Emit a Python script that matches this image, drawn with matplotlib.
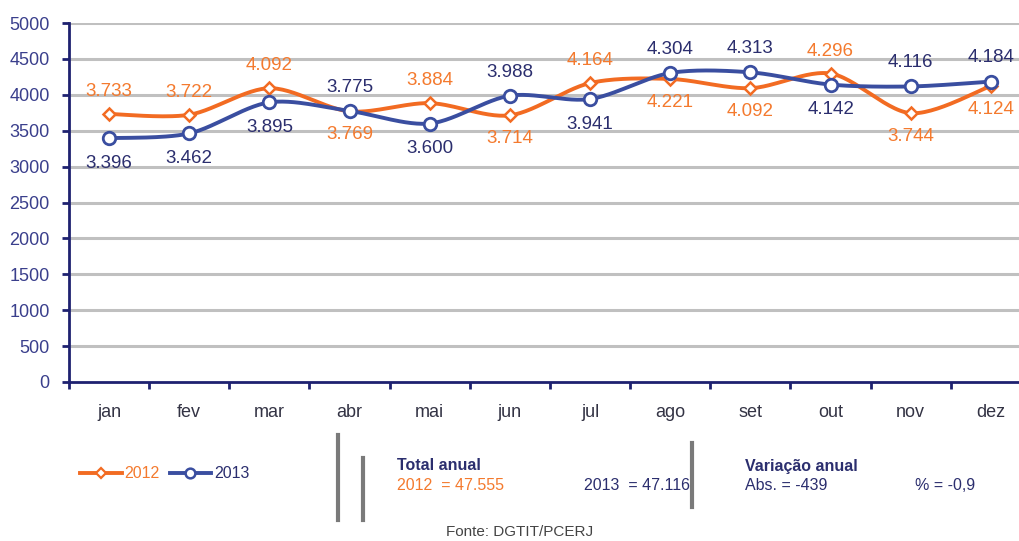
import numpy as np
import matplotlib
matplotlib.use("Agg")
import matplotlib.pyplot as plt
from matplotlib.lines import Line2D
from matplotlib import font_manager

months = ["jan", "fev", "mar", "abr", "mai", "jun", "jul", "ago", "set", "out", "nov", "dez"]
v2012 = [3733, 3722, 4092, 3769, 3884, 3714, 4164, 4221, 4092, 4296, 3744, 4124]
v2013 = [3396, 3462, 3895, 3775, 3600, 3988, 3941, 4304, 4313, 4142, 4116, 4184]
pos2012 = ["a", "a", "a", "b", "a", "b", "a", "b", "b", "a", "b", "b"]
pos2013 = ["b", "b", "b", "a", "b", "a", "b", "a", "a", "b", "a", "a"]
yticks = [0, 500, 1000, 1500, 2000, 2500, 3000, 3500, 4000, 4500, 5000]

avail = {f.name for f in font_manager.fontManager.ttflist}
fam = ["Liberation Sans Narrow"] if "Liberation Sans Narrow" in avail else ["Liberation Sans"]
plt.rcParams["font.family"] = fam + ["DejaVu Sans"]

ORANGE = "#F26B22"
ORANGE_T = "#F47A2E"
BLUE = "#3A4EA0"
NAVY = "#2B2E6E"
AXIS = "#1E2170"

def fmt(v):
    return f"{v:,}".replace(",", ".")

def smooth(x, y, n=30):
    x = np.asarray(x, float); y = np.asarray(y, float)
    px = np.concatenate([[x[0]], x, [x[-1]]])
    py = np.concatenate([[y[0]], y, [y[-1]]])
    xs, ys = [], []
    t = np.linspace(0, 1, n)
    for i in range(1, len(px) - 2):
        p0, p1, p2, p3 = (np.array([px[j], py[j]]) for j in (i - 1, i, i + 1, i + 2))
        m1 = (p2 - p0) / 2 * 0.9
        m2 = (p3 - p1) / 2 * 0.9
        h00 = 2*t**3 - 3*t**2 + 1; h10 = t**3 - 2*t**2 + t
        h01 = -2*t**3 + 3*t**2; h11 = t**3 - t**2
        pts = np.outer(h00, p1) + np.outer(h10, m1) + np.outer(h01, p2) + np.outer(h11, m2)
        xs.extend(pts[:, 0]); ys.extend(pts[:, 1])
    return np.array(xs), np.array(ys)

W, H = 1020, 541
fig = plt.figure(figsize=(W/100, H/100), dpi=100)
ax = fig.add_axes([69/W, 1 - 382/H, 962/W, 359/H])
x = np.arange(len(months))
ax.set_xlim(-0.5, len(months) - 0.5)
ax.set_ylim(0, 5000)

for yv in yticks[1:]:
    ax.axhline(yv, color="#C0C0C0", lw=2.2, zorder=0)

sx, sy = smooth(x, v2012)
ax.plot(sx, sy, color=ORANGE, lw=2.8, zorder=3, solid_capstyle="round")
ax.plot(x, v2012, ls="none", marker="D", ms=6.5, mfc="white", mec=ORANGE, mew=1.8, zorder=4)
sx, sy = smooth(x, v2013)
ax.plot(sx, sy, color=BLUE, lw=2.8, zorder=5, solid_capstyle="round")
ax.plot(x, v2013, ls="none", marker="o", ms=9, mfc="white", mec=BLUE, mew=2, zorder=6)

for xi, v, p in zip(x, v2012, pos2012):
    dy = 16 if p == "a" else -17
    ax.annotate(fmt(v), (xi, v), xytext=(0, dy), textcoords="offset points",
                ha="center", va="center", fontsize=13.5, color=ORANGE_T, zorder=7)
for xi, v, p in zip(x, v2013, pos2013):
    dy = 17 if p == "a" else -18
    ax.annotate(fmt(v), (xi, v), xytext=(0, dy), textcoords="offset points",
                ha="center", va="center", fontsize=13.5, color=NAVY, zorder=7)

for s in ["top", "right"]:
    ax.spines[s].set_visible(False)
for s in ["left", "bottom"]:
    ax.spines[s].set_color(AXIS)
    ax.spines[s].set_linewidth(2)
ax.set_yticks(yticks)
ax.set_yticklabels([str(t) for t in yticks], fontsize=13, color="#3A3F8C")
ax.tick_params(axis="y", length=5, width=2, color=AXIS, pad=9)
ax.set_xticks(np.arange(-0.5, len(months), 1.0))
ax.set_xticklabels([])
ax.tick_params(axis="x", length=5, width=2, color=AXIS)
for xi, m in zip(x, months):
    ax.text(xi, -0.085, m, transform=ax.get_xaxis_transform(), ha="center", va="center",
            fontsize=13, color="#333344")

# legend
handles = [Line2D([0], [0], color=ORANGE, lw=2.8, marker="D", ms=5, mfc="white", mec=ORANGE, mew=1.6),
           Line2D([0], [0], color=BLUE, lw=2.8, marker="o", ms=7, mfc="white", mec=BLUE, mew=1.8)]
leg = fig.legend(handles, ["2012", "2013"], loc="center left", bbox_to_anchor=(80/W, 1 - 474/H),
                 frameon=False, fontsize=11.5, handlelength=2.6, handletextpad=0.2,
                 columnspacing=0.6, ncol=2, borderaxespad=0, borderpad=0)
leg.get_texts()[0].set_color(ORANGE_T)
leg.get_texts()[1].set_color(NAVY)

# separators
for xp, y0, y1 in [(338, 435, 520), (363, 458, 520), (692, 443, 507)]:
    fig.add_artist(Line2D([xp/W, xp/W], [1 - y0/H, 1 - y1/H], color="#7A7A7A", lw=3))

fig.text(397/W, 1 - 465/H, "Total anual", fontsize=11.5, fontweight="bold", color=NAVY, va="center")
fig.text(397/W, 1 - 485/H, "2012  = 47.555", fontsize=11.5, color=ORANGE_T, va="center")
fig.text(690/W, 1 - 485/H, "2013  = 47.116", fontsize=11.5, color=NAVY, va="center", ha="right")
fig.text(745/W, 1 - 466/H, "Variação anual", fontsize=11.5, fontweight="bold", color=NAVY, va="center")
fig.text(745/W, 1 - 486/H, "Abs. = -439", fontsize=11.5, color=NAVY, va="center")
fig.text(915/W, 1 - 486/H, "% = -0,9", fontsize=11.5, color=NAVY, va="center")
fig.text(520/W, 1 - 532/H, "Fonte: DGTIT/PCERJ", fontsize=11, color="#444444", va="center", ha="center")

fig.savefig("out.png", dpi=100)
